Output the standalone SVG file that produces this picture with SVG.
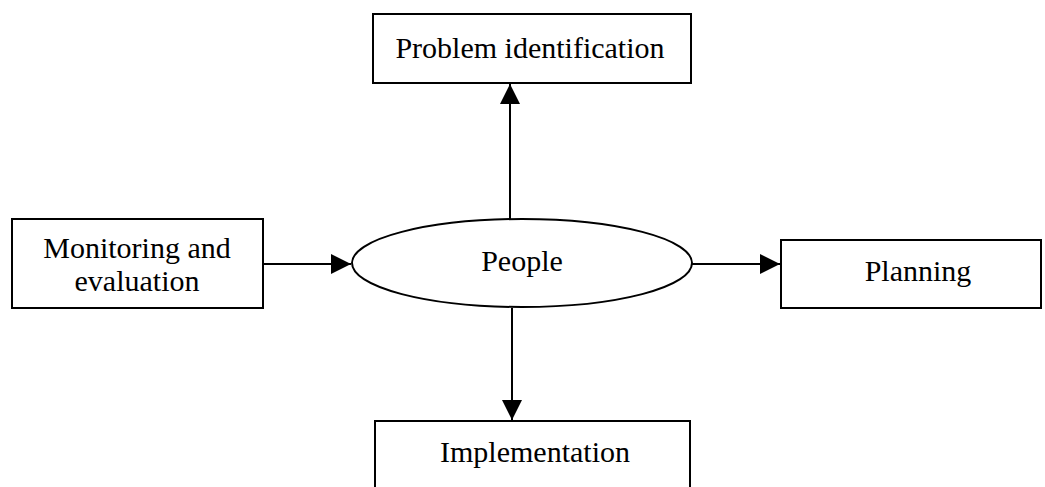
<svg xmlns="http://www.w3.org/2000/svg" width="1045" height="487" viewBox="0 0 1045 487">
<style>
.box{fill:#fff;stroke:#000;stroke-width:2}
.t{font-family:"Liberation Serif","Times New Roman",serif;font-size:30px;fill:#000;text-anchor:middle}
.c{stroke:#000;stroke-width:2;fill:none;marker-end:url(#ah)}
</style>
<defs>
<marker id="ah" viewBox="0 0 10 10" refX="10" refY="5" markerWidth="20" markerHeight="20" markerUnits="userSpaceOnUse" orient="auto">
<path d="M0,0 L10,5 L0,10 Z" fill="#000"/>
</marker>
</defs>
<rect width="1045" height="487" fill="#fff"/>
<g id="connectors">
<line class="c" x1="510" y1="219" x2="510" y2="84"/>
<line class="c" x1="263" y1="264" x2="351" y2="264"/>
<line class="c" x1="692" y1="264" x2="780" y2="264"/>
<line class="c" x1="512" y1="308" x2="512" y2="420"/>
</g>
<g id="problem">
<rect class="box" x="373" y="14" width="318" height="69"/>
<text class="t" x="530" y="58">Problem identification</text>
</g>
<g id="monitoring">
<rect class="box" x="12" y="219" width="251" height="89"/>
<text class="t" x="137" y="258">Monitoring and</text>
<text class="t" x="137" y="291">evaluation</text>
</g>
<g id="people">
<ellipse class="box" cx="522" cy="263" rx="170" ry="44"/>
<text class="t" x="522" y="271">People</text>
</g>
<g id="planning">
<rect class="box" x="781" y="240" width="260" height="68"/>
<text class="t" x="918" y="281">Planning</text>
</g>
<g id="implementation">
<rect class="box" x="375" y="421" width="315" height="70"/>
<text class="t" x="535" y="462">Implementation</text>
</g>
</svg>
